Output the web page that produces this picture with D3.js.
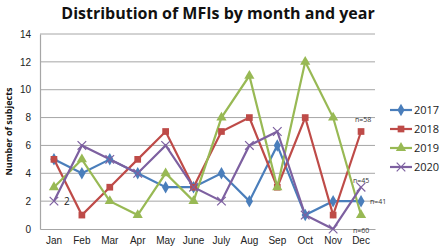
<!DOCTYPE html>
<html>
<head>
<meta charset="utf-8">
<script src="https://cdn.jsdelivr.net/npm/d3@7"></script>
<style>
body { margin: 0; background: #fff; }
svg { display: block; font-family: "Open Sans", "Liberation Sans", sans-serif; }
</style>
</head>
<body>
<div id="chart-area"></div>
<script>
var months = ["Jan", "Feb", "Mar", "Apr", "May", "June", "July", "Aug", "Sep", "Oct", "Nov", "Dec"];
var years = ["2017", "2018", "2019", "2020"];
var v2017 = [5, 4, 5, 4, 3, 3, 4, 2, 6, 1, 2, 2];
var v2018 = [5, 1, 3, 5, 7, 3, 7, 8, 3, 8, 1, 7];
var v2019 = [3, 5, 2, 1, 4, 2, 8, 11, 3, 12, 8, 1];
var v2020 = [2, 6, 5, 4, 6, 3, 2, 6, 7, 1, 0, 3];
var totals = ["n=41", "n=58", "n=60", "n=45"];
var yTicks = [0, 2, 4, 6, 8, 10, 12, 14];

var series = [v2017, v2018, v2019, v2020];
var colors = ["#4a7ebb", "#be4b48", "#98b954", "#7d60a0"];
var symbols = [d3.symbolDiamond, d3.symbolSquare, d3.symbolTriangle, d3.symbolX];

var W = 440, H = 251;
var margin = {top: 34, right: 65, bottom: 22, left: 40};
var width = W - margin.left - margin.right,
    height = H - margin.top - margin.bottom;

var svg = d3.select("#chart-area").append("svg")
    .attr("width", W)
    .attr("height", H);

svg.append("text")
    .attr("x", 218)
    .attr("y", 19)
    .attr("text-anchor", "middle")
    .attr("font-size", 16)
    .attr("font-weight", "bold")
    .attr("fill", "#111")
    .text("Distribution of MFIs by month and year");

var g = svg.append("g")
    .attr("transform", "translate(" + margin.left + "," + margin.top + ")");

var xScale = d3.scaleBand().domain(months).range([0, width]);
var yScale = d3.scaleLinear().domain([0, 14]).range([height, 0]);

// gridlines
g.selectAll(".grid")
    .data(yTicks.filter(function (d) { return d > 0; }))
    .enter().append("line")
    .attr("x1", 0).attr("x2", width)
    .attr("y1", function (d) { return yScale(d); })
    .attr("y2", function (d) { return yScale(d); })
    .attr("stroke", "#a6a6a6")
    .attr("stroke-width", 1);

var yAxis = g.append("g")
    .call(d3.axisLeft(yScale).tickValues(yTicks).tickSize(0).tickPadding(9));
yAxis.select(".domain").attr("stroke", "#a6a6a6").attr("stroke-width", 1.2);
yAxis.selectAll("text").attr("font-size", 10).attr("fill", "#222");

var xAxis = g.append("g")
    .attr("transform", "translate(0," + height + ")")
    .call(d3.axisBottom(xScale).tickSize(0).tickPadding(8));
xAxis.select(".domain").attr("stroke", "#a6a6a6").attr("stroke-width", 1.2);
xAxis.selectAll("text").attr("font-size", 10).attr("fill", "#222");

svg.append("text")
    .attr("transform", "translate(12," + (margin.top + height / 2) + ") rotate(-90)")
    .attr("text-anchor", "middle")
    .attr("font-size", 9)
    .attr("font-weight", "bold")
    .attr("fill", "#111")
    .text("Number of subjects");

var xc = function (i) { return xScale(months[i]) + xScale.bandwidth() / 2; };
var line = d3.line()
    .x(function (d, i) { return xc(i); })
    .y(function (d) { return yScale(d); });

series.forEach(function (vals, s) {
    g.append("path")
        .datum(vals)
        .attr("d", line)
        .attr("fill", "none")
        .attr("stroke", colors[s])
        .attr("stroke-width", 2.2);
});

function marker(sel, s) {
    sel.attr("d", d3.symbol().type(symbols[s]).size(s === 3 ? 50 : 45))
        .attr("fill", s === 3 ? "none" : colors[s])
        .attr("stroke", colors[s])
        .attr("stroke-width", s === 3 ? 1.2 : 0);
}

series.forEach(function (vals, s) {
    g.selectAll(".m" + s)
        .data(vals)
        .enter().append("path")
        .attr("transform", function (d, i) {
            return "translate(" + xc(i) + "," + yScale(d) + ")";
        })
        .call(marker, s);
});

// data label for 2020 Jan
g.append("text")
    .attr("x", xc(0) + 10)
    .attr("y", yScale(v2020[0]) + 4)
    .attr("font-size", 10)
    .attr("fill", "#222")
    .text(v2020[0]);

// totals next to Dec points
var last = months.length - 1;
var nPos = [
    {dx: 9, dy: 3},
    {dx: -6, dy: -10},
    {dx: -8, dy: 18},
    {dx: -8, dy: -4}
];
series.forEach(function (vals, s) {
    g.append("text")
        .attr("x", xc(last) + nPos[s].dx)
        .attr("y", yScale(vals[last]) + nPos[s].dy)
        .attr("font-size", 7)
        .attr("fill", "#333")
        .text(totals[s]);
});

// legend
var legend = svg.append("g").attr("transform", "translate(390,110)");
years.forEach(function (yr, s) {
    var row = legend.append("g").attr("transform", "translate(0," + s * 19 + ")");
    row.append("line")
        .attr("x1", 0).attr("x2", 22)
        .attr("stroke", colors[s]).attr("stroke-width", 2.2);
    row.append("path")
        .attr("transform", "translate(11,0)")
        .call(marker, s);
    row.append("text")
        .attr("x", 24)
        .attr("y", 4)
        .attr("font-size", 11)
        .attr("fill", "#222")
        .text(yr);
});
</script>
</body>
</html>
